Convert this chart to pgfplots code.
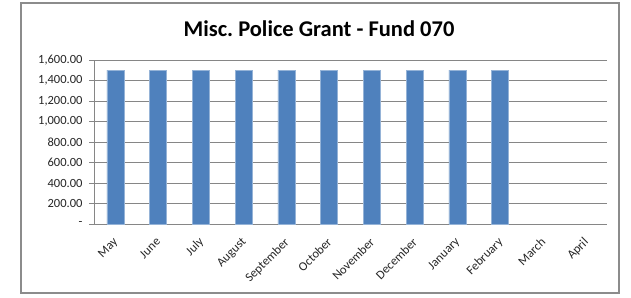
\documentclass[border=0pt]{standalone}
\usepackage{pgfplots}
\pgfplotsset{compat=1.18}
\usepackage{fontspec}
\setmainfont{Carlito}
\frenchspacing
\definecolor{barblue}{HTML}{4F81BD}
\definecolor{axgray}{HTML}{868686}
\definecolor{framegray}{HTML}{8C8C8C}
\begin{document}
\begin{tikzpicture}[x=1pt,y=1pt]
\path[use as bounding box] (0,0) rectangle (631,297);
\fill[white] (0,0) rectangle (631,297);
\draw[framegray, line width=1.2pt] (21,4) rectangle (619,294);
\node[font=\fontsize{22.5}{27}\selectfont\bfseries] at (319,268) {Misc. Police Grant - Fund 070};
\begin{axis}[
  at={(94pt,73pt)}, anchor=south west,
  scale only axis, width=513pt, height=164pt,
  xmin=-0.5, xmax=11.5, ymin=0, ymax=1600,
  axis line style={axgray, line width=0.8pt},
  axis x line*=bottom, axis y line*=left,
  ymajorgrids, grid style={axgray, line width=0.8pt},
  ytick={0,200,...,1600},
  yticklabels={-\hspace{7pt},200.00,400.00,600.00,800.00,{1,000.00},{1,200.00},{1,400.00},{1,600.00}},
  xtick={0,...,11},
  xticklabels={May,June,July,August,September,October,November,December,January,February,March,April},
  major x tick style={draw=none},
  extra x ticks={-0.5,0.5,...,11.5},
  extra x tick labels={},
  extra x tick style={major tick length=5pt, tick style={axgray, line width=0.8pt}, grid=none},
  tick align=outside,
  major tick length=5pt,
  tick style={axgray, line width=0.8pt},
  ticklabel style={font=\fontsize{12.5}{15}\selectfont, text=black!85},
  xticklabel style={rotate=45, anchor=north east, xshift=-4pt, yshift=0pt},
  yticklabel style={xshift=-3pt},
  /pgf/number format/assume math mode=true,
  ybar, bar width=17pt,
  clip=false,
]
\addplot[fill=barblue, draw=barblue!60!white, line width=0.5pt] coordinates {
(0,1500) (1,1500) (2,1500) (3,1500) (4,1500) (5,1500) (6,1500) (7,1500) (8,1500) (9,1500)};
\end{axis}
\end{tikzpicture}
\end{document}
